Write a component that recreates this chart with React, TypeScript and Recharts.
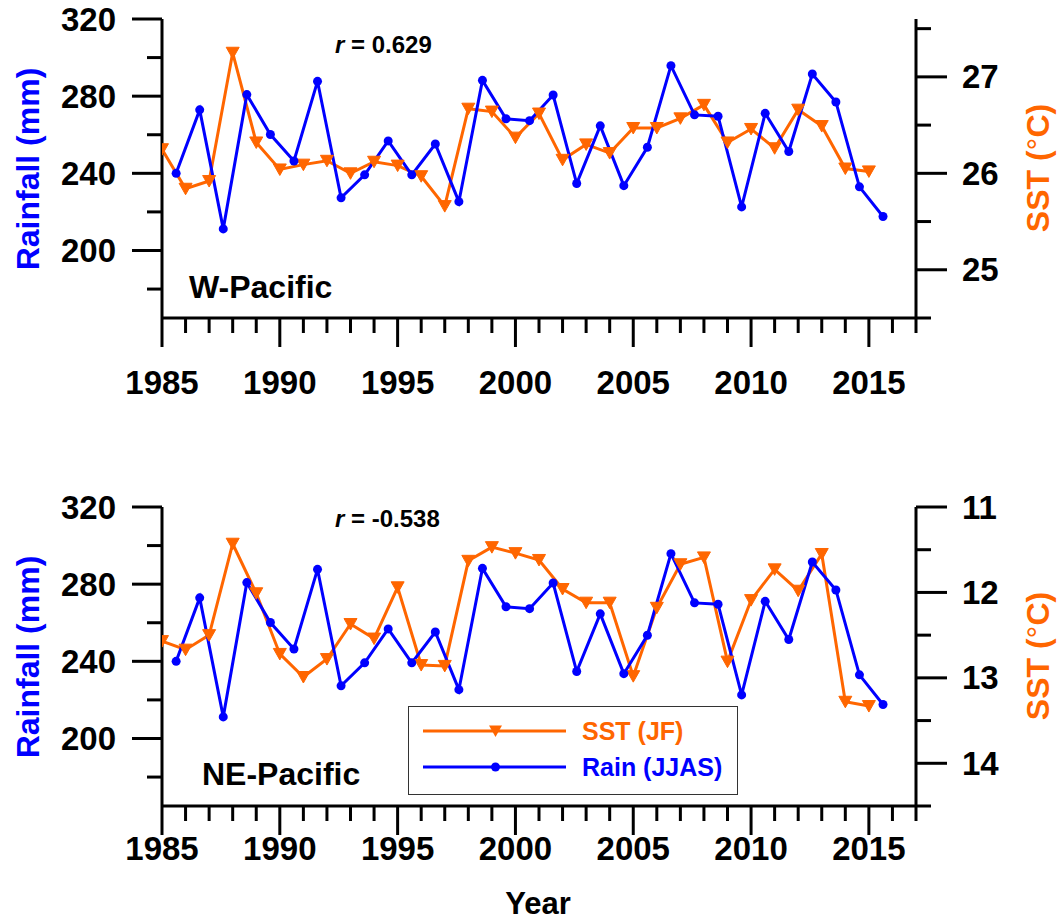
import React from 'react';
import { ComposedChart, Line, XAxis, YAxis, Legend, Customized } from 'recharts';

// ---------------- data ----------------
const years = [
  1985, 1986, 1987, 1988, 1989, 1990, 1991, 1992, 1993, 1994, 1995,
  1996, 1997, 1998, 1999, 2000, 2001, 2002, 2003, 2004, 2005, 2006,
  2007, 2008, 2009, 2010, 2011, 2012, 2013, 2014, 2015,
];
// JJAS rainfall is drawn mid-season (offset into the year)
const rainOffset = 0.6;
const rainJJAS = [
  240.0, 272.9, 211.2, 280.8, 260.1, 246.4, 287.7, 227.3, 239.2, 256.8, 239.2,
  255.2, 225.3, 288.2, 268.3, 267.3, 280.6, 234.7, 264.6, 233.6, 253.5, 295.8,
  270.3, 269.6, 222.6, 271.1, 251.3, 291.5, 277.0, 233.0, 217.6,
];
const sstWPacific = [
  26.25, 25.84, 25.92, 27.25, 26.32, 26.04, 26.09, 26.13, 26.0, 26.12, 26.08,
  25.97, 25.66, 26.67, 26.64, 26.37, 26.62, 26.14, 26.3, 26.21, 26.47, 26.47,
  26.57, 26.71, 26.32, 26.46, 26.26, 26.66, 26.49, 26.05, 26.02,
];
const sstNEPacific = [
  12.57, 12.67, 12.5, 11.43, 12.01, 12.72, 12.99, 12.78, 12.37, 12.54, 11.94,
  12.85, 12.86, 11.63, 11.47, 11.54, 11.62, 11.96, 12.12, 12.12, 12.98, 12.18,
  11.67, 11.59, 12.81, 12.09, 11.73, 11.98, 11.55, 13.28, 13.33,
];

const xTicks = [
  1985, 1986, 1987, 1988, 1989, 1990, 1991, 1992, 1993, 1994, 1995, 1996, 1997,
  1998, 1999, 2000, 2001, 2002, 2003, 2004, 2005, 2006, 2007, 2008, 2009, 2010,
  2011, 2012, 2013, 2014, 2015, 2016, 2017,
];
const rainTicks = [180, 200, 220, 240, 260, 280, 300, 320];
const rainMajor = [200, 240, 280, 320];
const sstTicksW = [24.5, 25, 25.5, 26, 26.5, 27, 27.5];
const sstTicksNE = [11, 11.5, 12, 12.5, 13, 13.5, 14, 14.5];

// ---------------- style ----------------
const BLUE = '#0000FF';
const ORANGE = '#FF6600';
const FONT = '"Liberation Sans", Arial, Helvetica, sans-serif';
const AXW = 3;
const TICKFS = 33;

const rainData = years.map((y, i) => ({ x: y + rainOffset, v: rainJJAS[i] }));
const sstDataW = years.map((y, i) => ({ x: y, v: sstWPacific[i] }));
const sstDataNE = years.map((y, i) => ({ x: y, v: sstNEPacific[i] }));

const XTick = (props: any) => {
  const { x, y, payload, labelDy } = props;
  const v = payload.value;
  const major = v % 5 === 0;
  return (
    <g>
      <line x1={x} y1={y} x2={x} y2={y + (major ? 29 : 15)} stroke="#000" strokeWidth={AXW} />
      {major && (
        <text x={x} y={y + labelDy} textAnchor="middle" fontFamily={FONT} fontWeight="bold" fontSize={TICKFS} fill="#000">
          {v}
        </text>
      )}
    </g>
  );
};

const LeftTick = (props: any) => {
  const { x, y, payload } = props;
  const v = payload.value;
  const major = rainMajor.includes(v);
  return (
    <g>
      <line x1={x} y1={y} x2={x - (major ? 30 : 15)} y2={y} stroke="#000" strokeWidth={AXW} />
      {major && (
        <text x={x - 46} y={y + 11.5} textAnchor="end" fontFamily={FONT} fontWeight="bold" fontSize={TICKFS} fill="#000">
          {v}
        </text>
      )}
    </g>
  );
};

const RightTick = (props: any) => {
  const { x, y, payload } = props;
  const v = payload.value;
  const major = Number.isInteger(v);
  return (
    <g>
      <line x1={x} y1={y} x2={x + (major ? 31 : 15)} y2={y} stroke="#000" strokeWidth={AXW} />
      {major && (
        <text x={x + 46} y={y + 11.5} textAnchor="start" fontFamily={FONT} fontWeight="bold" fontSize={TICKFS} fill="#000">
          {v}
        </text>
      )}
    </g>
  );
};

const TriangleDot = (props: any) => {
  const { cx, cy, index } = props;
  if (cx == null || cy == null) return <g key={`t-${index}`} />;
  return (
    <polygon
      key={`t-${index}`}
      points={`${cx - 6.5},${cy - 5.5} ${cx + 6.5},${cy - 5.5} ${cx},${cy + 6}`}
      fill={ORANGE}
      stroke={ORANGE}
      strokeWidth={1}
    />
  );
};

const LegendBox = () => (
  <div
    style={{
      position: 'relative',
      width: 330,
      height: 89,
      border: '1px solid #333',
      boxSizing: 'border-box',
      background: '#fff',
      fontFamily: FONT,
      fontWeight: 'bold',
      fontSize: 25,
    }}
  >
    <svg width={170} height={89} style={{ position: 'absolute', left: 0, top: 0 }}>
      <line x1={14} y1={24} x2={157} y2={24} stroke={ORANGE} strokeWidth={3} />
      <polygon points={`${80},${18.5} ${93},${18.5} ${86.5},${30}`} fill={ORANGE} />
      <line x1={14} y1={60} x2={157} y2={60} stroke={BLUE} strokeWidth={3} />
      <circle cx={86.5} cy={60} r={4.5} fill={BLUE} />
    </svg>
    <div style={{ position: 'absolute', left: 173, top: 24, transform: 'translateY(-50%)', color: ORANGE, whiteSpace: 'nowrap', lineHeight: '30px' }}>
      SST (JF)
    </div>
    <div style={{ position: 'absolute', left: 173, top: 60, transform: 'translateY(-50%)', color: BLUE, whiteSpace: 'nowrap', lineHeight: '30px' }}>
      Rain (JJAS)
    </div>
  </div>
);

type PanelProps = {
  top: number;
  height: number;
  marginBottom: number;
  sstData: { x: number; v: number }[];
  sstDomain: [number, number];
  sstTicks: number[];
  reversed: boolean;
  rValue: string;
  rY: number;
  region: string;
  regionX: number;
  regionY: number;
  xLabelDy: number;
  rainTitleY: number;
  sstTitleY: number;
  showLegend: boolean;
  showYear: boolean;
};

const Panel = (p: PanelProps) => (
  <div style={{ position: 'absolute', left: 0, top: p.top }}>
    <ComposedChart
      width={1059}
      height={p.height}
      margin={{ top: 19, right: 43, bottom: p.marginBottom, left: 62 }}
    >
      <XAxis
        type="number"
        dataKey="x"
        domain={[1985, 2017]}
        ticks={xTicks}
        interval={0}
        height={100}
        tickSize={0}
        tickMargin={0}
        tickLine={false}
        axisLine={{ stroke: '#000', strokeWidth: AXW }}
        tick={(tp: any) => <XTick key={`x-${tp.payload.value}`} {...tp} labelDy={p.xLabelDy} />}
        allowDataOverflow
      />
      <YAxis
        yAxisId="rain"
        type="number"
        domain={[165, 320]}
        ticks={rainTicks}
        interval={0}
        width={100}
        tickSize={0}
        tickMargin={0}
        tickLine={false}
        axisLine={{ stroke: '#000', strokeWidth: AXW }}
        tick={(tp: any) => <LeftTick key={`l-${tp.payload.value}`} {...tp} />}
        allowDataOverflow
      />
      <YAxis
        yAxisId="sst"
        orientation="right"
        type="number"
        domain={p.sstDomain}
        reversed={p.reversed}
        ticks={p.sstTicks}
        interval={0}
        width={100}
        tickSize={0}
        tickMargin={0}
        tickLine={false}
        axisLine={{ stroke: '#000', strokeWidth: AXW }}
        tick={(tp: any) => <RightTick key={`r-${tp.payload.value}`} {...tp} />}
        allowDataOverflow
      />
      <Line
        yAxisId="sst"
        data={p.sstData}
        dataKey="v"
        name="SST (JF)"
        stroke={ORANGE}
        strokeWidth={3}
        dot={(dp: any) => <TriangleDot key={`t-${dp.index}`} {...dp} />}
        activeDot={false}
        isAnimationActive={false}
      />
      <Line
        yAxisId="rain"
        data={rainData}
        dataKey="v"
        name="Rain (JJAS)"
        stroke={BLUE}
        strokeWidth={3}
        dot={{ r: 4.5, fill: BLUE, stroke: BLUE, strokeWidth: 0 }}
        activeDot={false}
        isAnimationActive={false}
      />
      {p.showLegend && (
        <Legend
          layout="vertical"
          align="center"
          verticalAlign="middle"
          wrapperStyle={{ position: 'absolute', left: 408, top: 218, width: 330, height: 89 }}
          content={() => <LegendBox />}
        />
      )}
      <Customized
        component={() => (
          <g fontFamily={FONT} fontWeight="bold">
            <text x={335} y={p.rY} fontSize={24} fill="#000">
              <tspan fontStyle="italic">r</tspan>
              <tspan> = {p.rValue}</tspan>
            </text>
            <text x={p.regionX} y={p.regionY} fontSize={32} fill="#000">
              {p.region}
            </text>
            <text
              x={28}
              y={p.rainTitleY}
              fontSize={32}
              fill={BLUE}
              textAnchor="middle"
              dominantBaseline="central"
              transform={`rotate(-90 28 ${p.rainTitleY})`}
            >
              Rainfall (mm)
            </text>
            <text
              x={1038}
              y={p.sstTitleY}
              fontSize={32}
              fill={ORANGE}
              textAnchor="middle"
              dominantBaseline="central"
              transform={`rotate(-90 1038 ${p.sstTitleY})`}
            >
              SST (<tspan fontWeight="normal">°</tspan>C)
            </text>
            {p.showYear && (
              <text x={538} y={426} fontSize={31} fill="#000" textAnchor="middle">
                Year
              </text>
            )}
          </g>
        )}
      />
    </ComposedChart>
  </div>
);

export default function App() {
  return (
    <div style={{ position: 'absolute', left: 0, top: 0, width: 1059, height: 923, background: '#fff', overflow: 'hidden' }}>
      <Panel
        top={0}
        height={440}
        marginBottom={22}
        sstData={sstDataW}
        sstDomain={[24.5, 27.6]}
        sstTicks={sstTicksW}
        reversed={false}
        rValue="0.629"
        rY={53}
        region="W-Pacific"
        regionX={189}
        regionY={298}
        xLabelDy={76}
        rainTitleY={169}
        sstTitleY={168}
        showLegend={false}
        showYear={false}
      />
      <Panel
        top={488}
        height={435}
        marginBottom={17}
        sstData={sstDataNE}
        sstDomain={[11, 14.5]}
        sstTicks={sstTicksNE}
        reversed={true}
        rValue="-0.538"
        rY={39}
        region="NE-Pacific"
        regionX={202}
        regionY={297}
        xLabelDy={54}
        rainTitleY={169}
        sstTitleY={168}
        showLegend={true}
        showYear={true}
      />
    </div>
  );
}
